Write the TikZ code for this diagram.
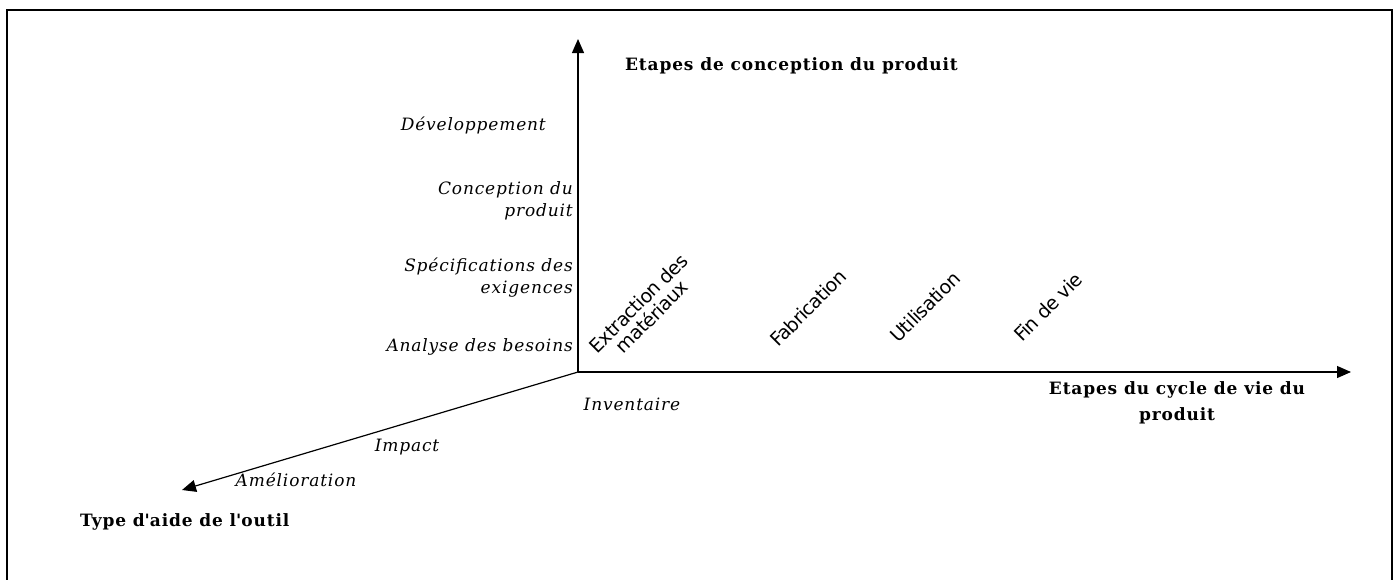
\documentclass[tikz,border=0pt]{standalone}
\usepackage{fontspec}
\setmainfont{DejaVu Serif}[LetterSpace=5]
\newfontfamily\rotfont{DejaVu Sans}[LetterSpace=-3]
\usetikzlibrary{arrows.meta}
\newcommand{\apos}{{\addfontfeatures{Ligatures=TeXOff}'}}
\begin{document}
\begin{tikzpicture}[x=1pt,y=-1pt,
  axis/.style={line width=1.2pt,-{Triangle[length=14pt,width=12pt]}},
  lab/.style={font=\fontsize{17}{22}\selectfont\itshape,inner sep=0pt},
  rlab/.style={lab,align=right,anchor=east},
  title/.style={font=\fontsize{17}{26}\selectfont\bfseries,inner sep=0pt},
  stage/.style={font=\fontsize{19}{19}\selectfont\rotfont,inner sep=0pt,rotate=45,align=center}]
\useasboundingbox (0,0) rectangle (1397,579);
\draw[line width=2.6pt] (7,590) -- (7,10) -- (1392,10) -- (1392,590);
\coordinate (O) at (578,372);
\coordinate (Y) at (578,39);
\coordinate (X) at (1351,372);
\coordinate (Z) at (182,490);
\draw[axis] (O) -- (Y);
\draw[axis] (O) -- (X);
\draw[axis] (O) -- (Z);
\node[title,anchor=west] (ty) at (625,66) {Etapes de conception du produit};
\node[title,align=center] (tx) at (1177,403) {Etapes du cycle de vie du\\produit};
\node[title,anchor=west] (tz) at (80,522) {Type d\apos aide de l\apos outil};
\node[rlab] (dev) at (546,125) {Développement};
\node[rlab] (con) at (573,201) {Conception du\\produit};
\node[rlab] (spe) at (573,278) {Spécifications des\\exigences};
\node[rlab] (ana) at (573,347) {Analyse des besoins};
\node[stage] (ext) at (645,310) {Extraction des\\matériaux};
\node[stage] (fab) at (808,308) {Fabrication};
\node[stage] (uti) at (925,307) {Utilisation};
\node[stage] (fin) at (1048,307) {Fin de vie};
\node[lab] (inv) at (632,404) {Inventaire};
\node[lab] (imp) at (407,447) {Impact};
\node[lab] (ame) at (296,480) {Amélioration};
\end{tikzpicture}
\end{document}
